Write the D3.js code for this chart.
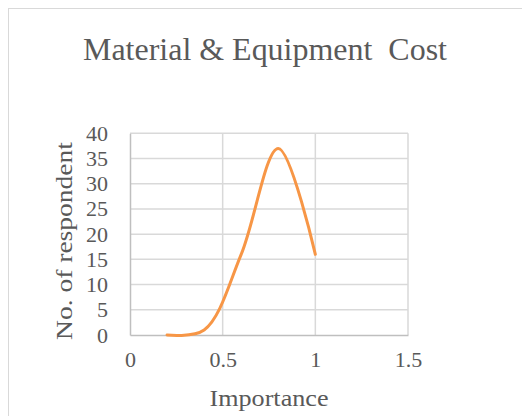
<!DOCTYPE html>
<html><head><meta charset="utf-8">
<script src="https://cdn.jsdelivr.net/npm/d3@7"></script>
<style>body{margin:0;background:#fff}svg{display:block}text{font-family:"Liberation Serif","Times New Roman",serif;fill:#595959}</style>
</head><body>
<svg id="c" width="522" height="416"></svg>
<script>
const title = "Material & Equipment  Cost";
const xTitle = "Importance";
const yTitle = "No. of respondent";
const importance = [0.2, 0.4, 0.6, 0.8, 1.0];
const respondents = [0, 1, 16, 37, 16];
const xTicks = [0, 0.5, 1, 1.5];
const yTicks = [0, 5, 10, 15, 20, 25, 30, 35, 40];

const svg = d3.select("#c");
svg.append("rect").attr("x", 8.5).attr("y", 8.5).attr("width", 520).attr("height", 420)
  .attr("fill", "#fff").attr("stroke", "#d9d9d9").attr("stroke-width", 1);

const L = 130, R = 408, T = 133.3, B = 335;
const x = d3.scaleLinear().domain([0, 1.5]).range([L, R]);
const y = d3.scaleLinear().domain([0, 40]).range([B, T]);

// gridlines
svg.append("g").selectAll("line").data(yTicks.filter(d => d > 0)).join("line")
  .attr("x1", L).attr("x2", R).attr("y1", d => y(d)).attr("y2", d => y(d))
  .attr("stroke", "#d9d9d9").attr("stroke-width", 1.5);
svg.append("g").selectAll("line").data(xTicks.filter(d => d > 0)).join("line")
  .attr("y1", T).attr("y2", B).attr("x1", d => x(d)).attr("x2", d => x(d))
  .attr("stroke", "#d9d9d9").attr("stroke-width", 1.5);

// axes
const xAxis = svg.append("g").attr("transform", `translate(0,${B})`)
  .call(d3.axisBottom(x).tickValues(xTicks).tickSize(0).tickPadding(16).tickFormat(d3.format("")));
const yAxis = svg.append("g").attr("transform", `translate(${L},0)`)
  .call(d3.axisLeft(y).tickValues(yTicks).tickSize(0).tickPadding(22));
[xAxis, yAxis].forEach(a => {
  a.select(".domain").attr("stroke", "#bfbfbf").attr("stroke-width", 1.5);
  a.selectAll("text").attr("font-family", "Liberation Serif").attr("font-size", 22).attr("fill", "#595959");
});

// line
const line = d3.line().x((d, i) => x(importance[i])).y(d => y(d)).curve(d3.curveCatmullRom.alpha(0.5));
svg.append("path").attr("d", line(respondents)).attr("fill", "none")
  .attr("stroke", "#f79646").attr("stroke-width", 3).attr("stroke-linecap", "round");

// titles
svg.append("text").attr("x", 265).attr("y", 60).attr("text-anchor", "middle")
  .style("white-space", "pre").attr("font-size", 31).attr("textLength", 364).attr("lengthAdjust", "spacingAndGlyphs").text(title);
svg.append("text").attr("x", 269).attr("y", 406).attr("text-anchor", "middle")
  .attr("font-size", 23).attr("textLength", 119).attr("lengthAdjust", "spacingAndGlyphs").text(xTitle);
svg.append("text").attr("transform", "translate(72,241) rotate(-90)").attr("text-anchor", "middle")
  .attr("font-size", 24).attr("textLength", 198).attr("lengthAdjust", "spacingAndGlyphs").text(yTitle);
</script>
</body></html>
